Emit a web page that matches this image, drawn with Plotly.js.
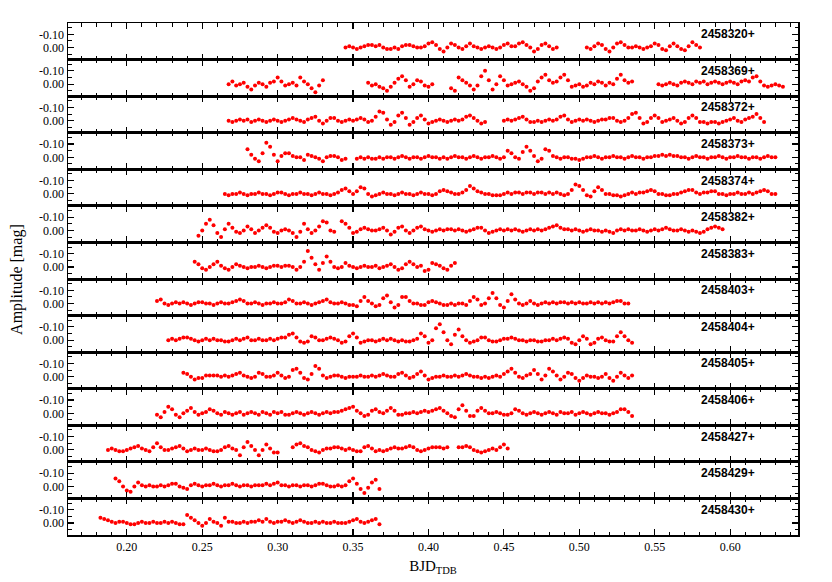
<!DOCTYPE html>
<html>
<head>
<meta charset="utf-8">
<script src="https://cdn.plot.ly/plotly-3.0.1.min.js"></script>
<style>body{margin:0;background:#fff;}</style>
</head>
<body>
<div id="lightCurves" style="width:832px;height:582px;"></div>
<script>
// Night labels (BJD offset), one panel each
var nights = ["2458320+", "2458369+", "2458372+", "2458373+", "2458374+", "2458382+", "2458383+",
              "2458403+", "2458404+", "2458405+", "2458406+", "2458427+", "2458429+", "2458430+"];

// sampling step of the light curves (days)
var cadence = 0.0025;

// each night: [segment start (BJD fraction), amplitudes in 0.01 mag]
var n2458320 = [
    [0.345, [0,-1,0,1,0,-1,-2,-2,-1,-2,0,1,1,0,1,-1,-2,-2,-1,0,0,-1,-3,-4,-2,1,3,0,-3,-2,0,1,-1,-3,-1,0,1,0,-1,0,1,0,-2,-3,-1,-1,-3,-4,-2,0,3,1,-2,-3,-1,1,0]],
    [0.505, [0,1,-1,-3,-2,1,3,0,-3,-4,-2,0,0,-1,0,1,0,-1,-3,-2,1,2,-1,-3,-1,1,2,-1,-4,-2,0]]
];
var n2458369 = [
    [0.2675, [0,-2,1,0,-1,2,4,1,-1,0,2,-1,-2,-5,-2,1,0,-1,1,-5,-2,0,3,6,1,-3]],
    [0.360, [-1,1,0,2,3,5,2,-1,-4,-6,-3,2,0,-3,-2,1,2,0]],
    [0.415, [3,5,-5,-3,-1,1,4,1,-6,-10,-3,4,0,-6,-3,1,0,-1,-2,0,2,5,3,-2,-5,-7,-3,-1,-2,-5,-7,-3,2,1,0,2,1,-1,0,-2,-1,1,-1,0,-4,-7,-3,-1,-2]],
    [0.5525, [0,1,0,-1,0,1,-1,-2,-1,0,-2,-1,-2,0,-1,-2,-1,0,-1,-2,-1,0,-2,-3,-2,-5,-6,-2,1,2,1,0,1,2]]
];
var n2458372 = [
    [0.2675, [0,1,0,-1,0,-1,1,0,-1,0,1,0,-1,0,1,0,-1,-2,-1,0,1,-1,-2,-3,0,2,0,-2,-2,0,1,0,-1,0,-1,-2,-1,1,0,-3,-7,-6,-1,3,1,-4,-6,-2,3,1,-2,-4,-1,2,1,0,-1,0,1,0,-1,0,-1,-3,-4,-2,0,2,1]],
    [0.450, [0,-1,0,-1,-2,-3,-1,1,1,0,1,0,-1,0,-1,-3,-4,-1,1,0,-1,0,-1,0,1,0,-1,-1,-2,-2,0,1,0,-2,-5,-6,-2,2,1,-2,-4,-2,1,0,-1,-2,0,2,1,-2,-4,-2,1,1,2,1,1,2,1,0,-1,-2,0,1,-1,-2,-3,-5,-2,1]]
];
var n2458373 = [
    [0.280, [-6,-2,1,3,-3,-11,-8,-2,3,-1,-3,-3,-1,0,0,2,-2,-1,0,1,3,0,-1,-1,0,2,1]],
    [0.3525, [1,0,1,0,1,1,0,1,0,0,1,0,-1,0,1,0,0,1,0,-1,0,0,1,0,1,0,-1,0,0,1,0,-1,0,1,0,0,-1,0,1,0,
              -5,-3,0,1,-4,-8,-5,-1,3,1,-6,-5,-1,0,1,0,0,1,1,2,1,
              0,0,-1,0,1,0,0,-1,0,0,1,0,-1,0,0,1,0,0,-1,-1,-2,-1,-2,-1,-1,0,0,1,0,-1,0,0,1,0,0,-1,0,1,0,0,-1,0,0,1,0,0,1,0,-1,0,0]]
];
var n2458374 = [
    [0.265, [0,1,0,0,-1,0,1,0,0,-1,0,0,1,0,-1,-1,0,1,0,0,-1,0,0,1,0,-1,0,0,1,0,-1,
             -3,-4,-2,0,-2,-5,-4,0,2,1,0,-1,0,0,1,0,-1,0,0,1,0,-1,0,0,1,0,-2,-3,-2,-1,
             0,0,-1,-3,-6,-4,-2,-1,0,0,1,1,1,0,-1,0,-1,-1,0,-1,-1,0,-1,-1,0,-1,0,-1,0,1,
             0,-3,-7,-6,-3,1,2,-2,-5,-3,0,0,1,1,2,1,0,-1,0,-1,-1,-2,-3,-2,0,0,1,1,0,0,
             -1,-2,-3,-3,-1,0,-1,-1,-2,-2,0,0,1,0,0,-1,0,0,-1,0,-1,-2,-3,-2,0,0]]
];
var n2458382 = [
    [0.2475, [4,0,-5,-8,-4,2,5,-1,-5,-2,1,2,0,-3,-1,2,0,-2,-4,-2,1,2,0,-1,0,2,5,1,-5,-1,2,0,-3,-7,-6,0,1]],
    [0.3425, [-7,-5,-2,2,1,-1,-2,-1,0,0,-1,-2,0,3,1,-2,-3,0,2,0,-2,-3,-1,0,1,0,-1,0,-1,-1,0,-1,0,1,0,-1,-2,-2,0,2,1,0,-1,0,-1,0,-1,0,1,0,-1,0,-1,0,-1,-2,-3,-4,-2,-1,-1,0,-1,0,1,0,-1,0,0,1,0,1,2,0,-1,0,-1,0,0,-1,0,1,0,-1,0,-1,-2,-1,0,0,-1,0,1,0,1,2,1,-1,-2,-3,-2,-1]]
];
var n2458383 = [
    [0.245, [-4,-2,1,2,0,-2,-4,-1,1,2,0,-2,-1,0,1,0,0,-1,0,1,0,-1,-1,0,-1,-1,0,2,0,-4,-12,-7,-2,2,-3,-8,-4,0,1,0,-3,-1,0,1,0,-1,0,0,-1,1,0,-1,-2,0,2,1,-2,-4,-2,0,-1,3,2,-3,-2,-1,1,2,-1,-3]]
];
var n2458403 = [
    [0.220, [-2,-3,0,1,0,-1,0,-1,0,1,0,-1,-1,0,0,1,0,-1,0,0,-1,-2,-3,-2,0,0,-1,0,1,0,0,-1,0,0,-1,-3,-2,0,0,-1,0,1,0,-1,-2,-3,-1,0,0,-1,0,1,1,2,-2,-5,-2,0,2,1,-4,-6,-1,3,1,-5,-5,-2,0,0,1,1,-1,-2,-1,0,1,1,0,1,0,0,1,-2,-5,-3,1,0,-4,-8,-4,1,3,-2,-7,-3,0,1,0,-2,0,1,0,-1,0,-1,0,-1,-1,0,-1,0,-1,0,0,-1,0,-1,0,-1,0,-1,-2,-2,0,0]]
];
var n2458404 = [
    [0.2275, [0,-1,0,-1,-2,-2,-1,0,1,0,-1,0,-1,0,0,1,1,0,-1,0,-1,-2,0,0,-1,0,0,-1,0,-1,-2,-2,-4,-5,-2,1,2,1,-3,-2,0,0,-1,-2,-1,0,2,1,-3,-5,-2,2,1,0,0,1,0,-1,0,-1,0,1,0,1,1,0,-1,-5,-3,2,0,-9,-12,-6,0,3,-4,-8,-3,0,2,1,0,-2,-2,0,1,1,0,-1,-1,-2,-1,0,0,1,0,0,1,1,0,0,-1,0,-1,-2,-1,2,3,0,-3,-1,3,2,-1,-2,0,1,1,-3,-6,-3,0,2]]
];
var n2458405 = [
    [0.2375, [-3,-2,0,2,1,1,-1,-1,-1,-1,0,-1,0,-1,-2,-3,-1,0,1,0,-3,-2,0,0,-1,-3,-1,1,0,-5,-6,-3,1,2,-2,-8,-6,-1,1,0,-1,-1,0,1,0,0,0,-1,0,0,-1,0,-1,-2,-1,0,0,-2,-3,-1,1,0,-2,-4,-1,2,1,0,0,-1,0,0,-1,0,-1,-2,-1,0,0,1,0,1,0,-1,0,-2,-4,-6,-3,0,1,-1,-2,-5,-2,2,-1,-6,-4,-1,2,0,-3,-2,1,3,1,-1,0,0,1,0,-2,1,3,0,-3,-1,1,-1]]
];
var n2458406 = [
    [0.220, [1,3,-1,-5,-3,1,3,0,-2,-4,-1,1,0,-1,-3,-2,0,1,-1,0,1,0,-1,1,0,-1,0,1,-1,0,1,-1,0,-1,1,1,0,-1,0,1,0,-1,0,1,0,-1,0,-1,-1,-2,-3,-4,-5,-2,0,2,1,-2,-3,-1,0,-2,-4,-2,1,1,0,0,-1,0,-1,-2,-1,-2,-3,-4,-2,0,2,3,-3,-6,-2,2,2,-2,-4,-2,0,0,-1,0,1,1,0,-3,-2,0,1,0,-1,0,1,0,-1,0,1,-1,0,0,-1,1,0,-1,0,1,0,-1,0,0,1,0,-1,-3,-3,-1,2]]
];
var n2458427 = [
    [0.1875, [0,-1,0,1,1,0,-1,-2,-3,-1,0,1,-2,-5,-2,0,0,-1,-2,-3,-1,1,0,-1,0,0,-1,0,1,1,0,-2,-3,-1,0,4,-2,-6,-3,0,4,0,-4,-1,2,2]],
    [0.310, [-2,-4,-5,-3,-2,0,1,2,0,-1,-1,-2,-2,-1,0,-1,0,1,1,-2,-3,-1,1,0,1,0,-1,-2,-1,-1,-2,-3,-2,0,1,0,-1,-2,-2,-2,-1,-2]],
    [0.420, [-2,-2,-3,-2,0,1,2,1,0,-1,0,-2,-4,-1]]
];
var n2458429 = [
    [0.1925, [-6,-4,0,3,4,0,-3,-1,0,-1,0,0,-1,0,-1,-2,-2,0,1,2,-1,-2,-1,0,-1,-1,-2,-1,0,-1,-1,-2,-1,0,-1,-1,0,-1,-1,-1,-2,-1,-2,-3,-1,-1,0,-1,-1,0,-1,-1,0,-1,-2,-2,-1,0,0,-1,0,-1,-4,-6,-2,2,5,1,-3,-5,2]]
];
var n2458430 = [
    [0.1825, [-4,-3,-2,-1,0,-1,-1,0,1,1,0,-1,0,0,-1,0,0,-1,0,-1,0,1,1,-6,-4,-2,0,2,0,-3,-1,0,2,-4]],
    [0.2675, [-1,-1,0,0,-1,0,-1,-1,-2,-1,-3,-1,0,-1,-1,-2,-1,0,-1,-2,-1,0,0,-1,0,-1,0,0,-1,0,0,0,-1,-2,-3,-1,0,-1,-2,-3,1]]
];

var runs = [n2458320, n2458369, n2458372, n2458373, n2458374, n2458382, n2458383,
            n2458403, n2458404, n2458405, n2458406, n2458427, n2458429, n2458430];

var serif = "Liberation Serif, Times New Roman, serif";
var nPanels = runs.length;
var traces = [];
var layout = {
    width: 832, height: 582,
    margin: {l: 68, r: 34, t: 23, b: 47},
    paper_bgcolor: "white", plot_bgcolor: "white",
    showlegend: false,
    annotations: []
};

runs.forEach(function(segs, k) {
    var key = k === 0 ? "" : String(k + 1);
    var x = [], y = [];
    segs.forEach(function(seg) {
        seg[1].forEach(function(a, i) {
            x.push(seg[0] + i * cadence);
            y.push(a / 100);
        });
    });
    traces.push({
        x: x, y: y, type: "scatter", mode: "markers",
        marker: {color: "#ff0000", size: 4},
        xaxis: "x" + key, yaxis: "y" + key,
        hoverinfo: "skip"
    });

    layout["xaxis" + key] = {
        domain: [0, 1], anchor: "y" + key,
        range: [0.161, 0.645],
        tick0: 0, dtick: 0.05, tickformat: ".2f",
        ticks: "inside", ticklen: 6, tickwidth: 1.2, tickcolor: "#000",
        minor: {dtick: 0.01, ticks: "inside", ticklen: 3.5, tickwidth: 1, tickcolor: "#000"},
        showline: true, linewidth: 1.5, linecolor: "#000", mirror: "allticks",
        showgrid: false, zeroline: false,
        showticklabels: k === nPanels - 1,
        tickfont: {family: serif, size: 12, color: "#000"}
    };
    if (k === nPanels - 1) {
        layout["xaxis" + key].title = {text: "BJD<sub>TDB</sub>", font: {family: serif, size: 15, color: "#000"}, standoff: 7};
    }

    layout["yaxis" + key] = {
        domain: [1 - (k + 1) / nPanels, 1 - k / nPanels], anchor: "x" + key,
        range: [0.09, -0.185],
        tickmode: "array", tickvals: [-0.1, 0], ticktext: ["-0.10", "0.00"],
        ticks: "inside", ticklen: 6, tickwidth: 1.2, tickcolor: "#000",
        minor: {tickvals: [-0.15, -0.05, 0.05], ticks: "inside", ticklen: 3.5, tickwidth: 1, tickcolor: "#000"},
        showline: true, linewidth: 1.5, linecolor: "#000", mirror: "allticks",
        showgrid: false, zeroline: false,
        tickfont: {family: serif, size: 12, color: "#000"}
    };

    layout.annotations.push({
        text: "<b>" + nights[k] + "</b>",
        xref: "paper", x: 0.944, xanchor: "right",
        yref: "y" + key + " domain", y: 0.69, yanchor: "middle",
        showarrow: false,
        font: {family: "Liberation Sans, Arial, sans-serif", size: 12, color: "#000"}
    });
});

// shared y title
layout.annotations.push({
    text: "Amplitude [mag]",
    xref: "paper", x: -0.07, xanchor: "center",
    yref: "paper", y: 0.5, yanchor: "middle",
    textangle: -90, showarrow: false,
    font: {family: serif, size: 16, color: "#000"}
});

Plotly.newPlot("lightCurves", traces, layout, {displayModeBar: false, staticPlot: true});
</script>
</body>
</html>
